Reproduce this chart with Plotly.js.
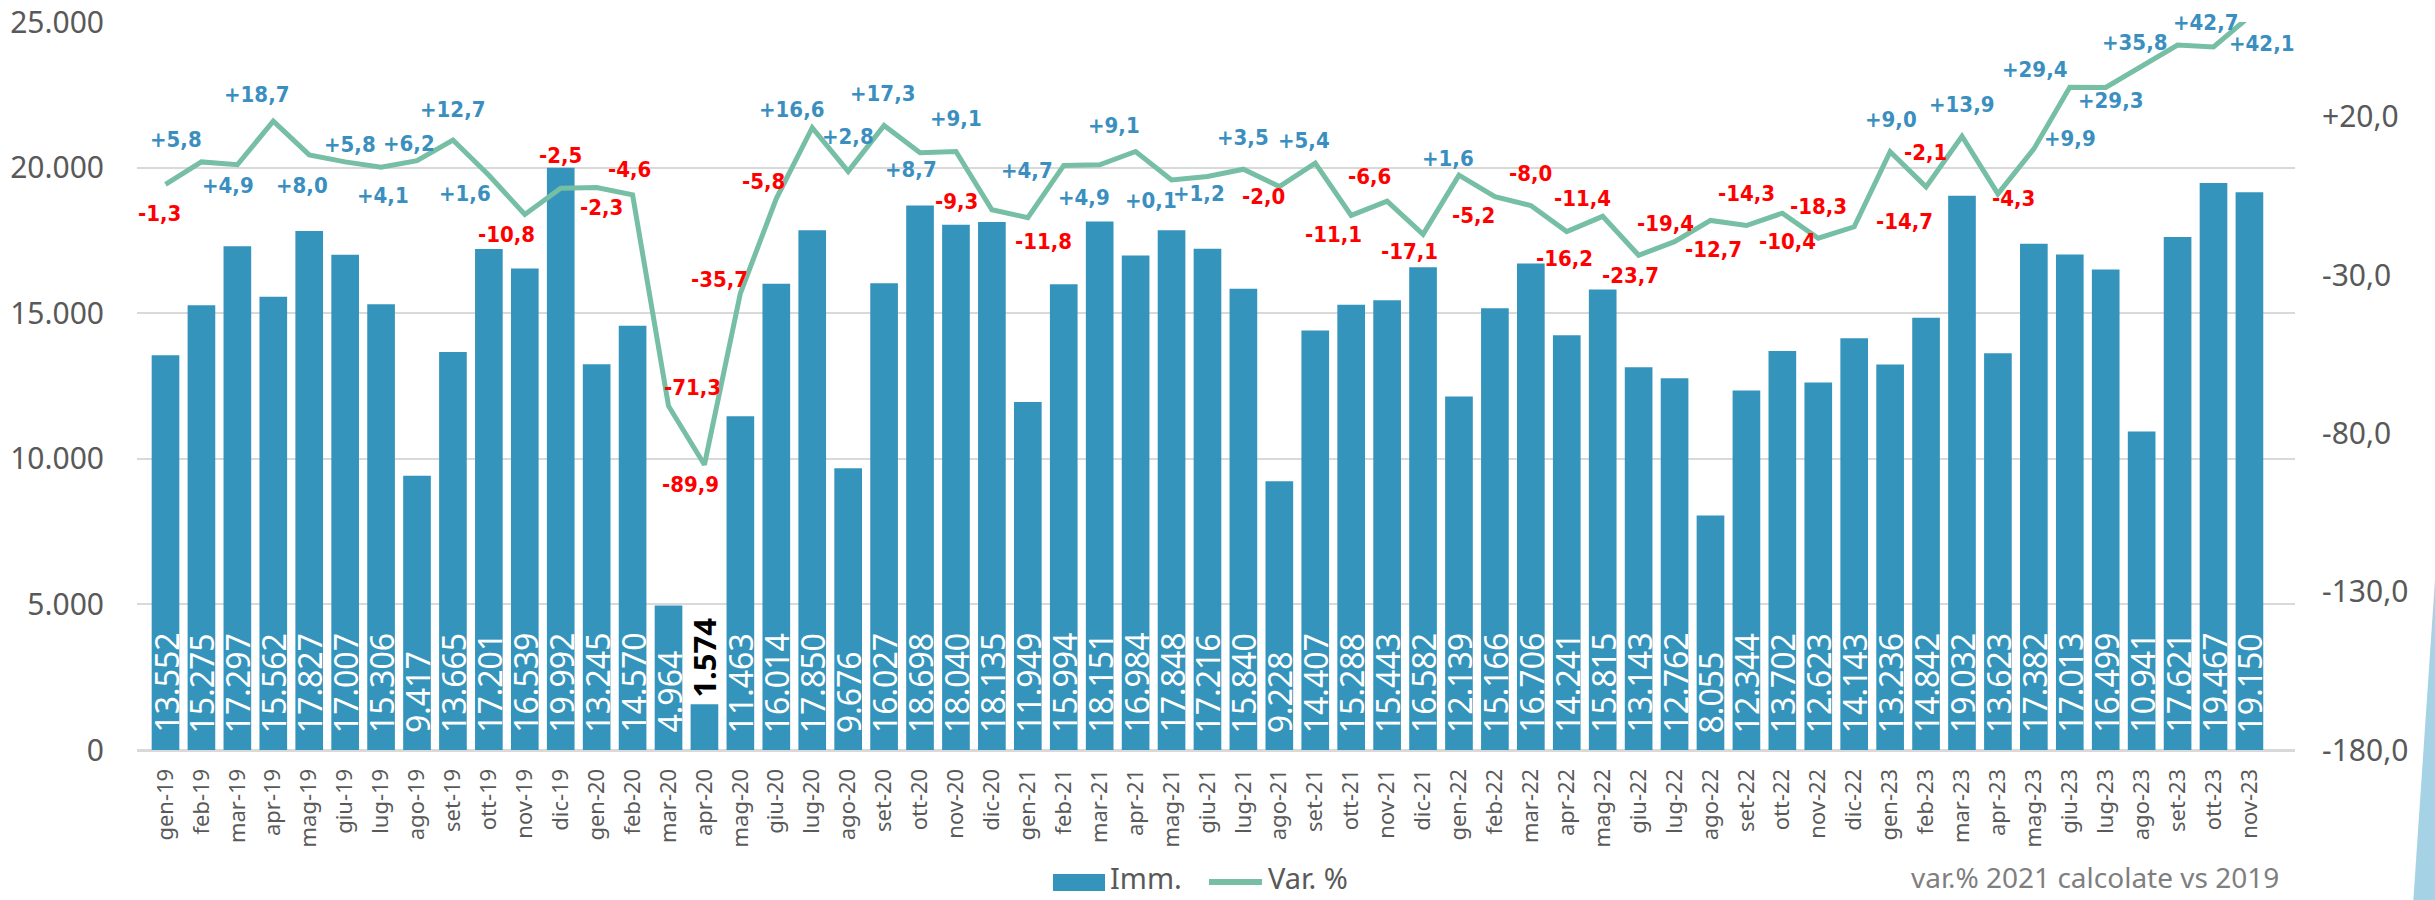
<!DOCTYPE html>
<html>
<head>
<meta charset="utf-8">
<script src="https://cdn.plot.ly/plotly-3.0.1.min.js"></script>
<style>
  html, body { margin: 0; padding: 0; background: #ffffff; }
  #chart { width: 2435px; height: 900px; }
</style>
</head>
<body>
<div id="chart"></div>
<script>
// ---- Data ----
const months = [
  'gen-19','feb-19','mar-19','apr-19','mag-19','giu-19','lug-19','ago-19','set-19','ott-19','nov-19','dic-19',
  'gen-20','feb-20','mar-20','apr-20','mag-20','giu-20','lug-20','ago-20','set-20','ott-20','nov-20','dic-20',
  'gen-21','feb-21','mar-21','apr-21','mag-21','giu-21','lug-21','ago-21','set-21','ott-21','nov-21','dic-21',
  'gen-22','feb-22','mar-22','apr-22','mag-22','giu-22','lug-22','ago-22','set-22','ott-22','nov-22','dic-22',
  'gen-23','feb-23','mar-23','apr-23','mag-23','giu-23','lug-23','ago-23','set-23','ott-23','nov-23'
];

const immatricolazioni = [
  13552, 15275, 17297, 15562, 17827, 17007, 15306, 9417, 13665, 17201, 16539, 19992,
  13245, 14570, 4964, 1574, 11463, 16014, 17850, 9676, 16027, 18698, 18040, 18135,
  11949, 15994, 18151, 16984, 17848, 17216, 15840, 9228, 14407, 15288, 15443, 16582,
  12139, 15166, 16706, 14241, 15815, 13143, 12762, 8055, 12344, 13702, 12623, 14143,
  13236, 14842, 19032, 13623, 17382, 17013, 16499, 10941, 17621, 19467, 19150
];

const variazionePct = [
  -1.3, 5.8, 4.9, 18.7, 8.0, 5.8, 4.1, 6.2, 12.7, 1.6, -10.8, -2.5,
  -2.3, -4.6, -71.3, -89.9, -35.7, -5.8, 16.6, 2.8, 17.3, 8.7, 9.1, -9.3,
  -11.8, 4.7, 4.9, 9.1, 0.1, 1.2, 3.5, -2.0, 5.4, -11.1, -6.6, -17.1,
  1.6, -5.2, -8.0, -16.2, -11.4, -23.7, -19.4, -12.7, -14.3, -10.4, -18.3, -14.7,
  9.0, -2.1, 13.9, -4.3, 9.9, 29.4, 29.3, 35.8, 42.7, 42.1, 51.7
];

const leftTickVals = [0, 5000, 10000, 15000, 20000, 25000];
const rightTickVals = [-180, -130, -80, -30, 20];
const rightTickText = ['-180,0', '-130,0', '-80,0', '-30,0', '+20,0'];

const seriesNames = ['Imm.', 'Var. %'];
const noteText = 'var.% 2021 calcolate vs 2019';

// ---- Styles: label offsets (px) relative to each line point: [dx, dy(down)] ----
const labelOffsets = [
  [-6,29],[-25,-22],[-9,21],[-17,-27],[-7,31],[5,-17],[2,28],[-8,-17],[0,-31],[-24,18],[-18,20],[0,-33],
  [5,20],[-3,-25],[24,-18],[-14,20],[-21,-14],[-13,-17],[-21,-18],[0,-35],[-2,-32],[-9,17],[0,-33],[-35,-8],
  [16,24],[-37,5],[-16,33],[-22,-26],[-21,21],[-8,17],[0,-32],[-16,10],[-11,-23],[-18,19],[-18,-25],[-14,17],
  [-11,-17],[-21,19],[0,-32],[-2,27],[-20,-18],[-8,20],[-9,-18],[3,29],[0,-32],[5,28],[0,-32],[50,-5],
  [1,-32],[-1,-34],[0,-32],[16,5],[36,-10],[-35,-18],[5,13],[-7,-24],[28,-23],[48,-4],[0,-30]
];

const Y2MIN = -180, Y2MAX = 50;
const BAR_COLOR = '#3594bb';
const LINE_COLOR = '#76bea4';
const POS_COLOR = '#3a8fc0';
const NEG_COLOR = '#ff0000';
const AXIS_TEXT = '#595959';

// plot geometry (px) for paper-coordinate helpers
const W = 2435, H = 900;
const M = { l: 137, r: 140, t: 22, b: 150 };
const PW = W - M.l - M.r, PH = H - M.t - M.b;
const px = x => (x - M.l) / PW;
const py = y => (H - M.b - y) / PH;

function thousands(v) {
  return String(v).replace(/\B(?=(\d{3})+(?!\d))/g, '.');
}
function pct(v) {
  const s = Math.abs(v).toFixed(1).replace('.', ',');
  return (v >= 0 ? '+' : '-') + s;
}

const barTrace = {
  type: 'bar',
  name: seriesNames[0],
  x: months,
  y: immatricolazioni,
  marker: { color: BAR_COLOR },
  hoverinfo: 'x+y',
  showlegend: false
};

const lineTrace = {
  type: 'scatter',
  mode: 'lines',
  name: seriesNames[1],
  x: months,
  y: variazionePct,
  yaxis: 'y2',
  line: { color: LINE_COLOR, width: 5 },
  showlegend: false
};

// bar value labels (rotated, at the base of each bar; above the bar when too short)
const barLabels = immatricolazioni.map((v, i) => {
  const outside = v < 4000;
  return {
    xref: 'x', yref: 'y',
    x: months[i], y: outside ? v : 0,
    text: thousands(v),
    textangle: -90,
    xanchor: 'center', yanchor: 'bottom',
    yshift: outside ? 6 : 16,
    showarrow: false,
    borderpad: 0,
    font: outside
      ? { family: 'Noto Sans', size: 31, color: '#000000', weight: 'bold' }
      : { family: 'Noto Sans', size: 32, color: '#ffffff' }
  };
});

// line value labels
const lineLabels = [];
variazionePct.forEach((v, i) => {
  if (v > Y2MAX || v < Y2MIN) return;
  lineLabels.push({
    xref: 'x', yref: 'y2',
    x: months[i], y: v,
    text: pct(v),
    xanchor: 'center', yanchor: 'middle',
    xshift: labelOffsets[i][0], yshift: -labelOffsets[i][1],
    showarrow: false,
    borderpad: 0,
    font: { family: 'DejaVu Sans Condensed', size: 22, color: v >= 0 ? POS_COLOR : NEG_COLOR, weight: 'bold' }
  });
});

// legend (drawn manually to match the large legend keys)
const legendAnn = [
  { xref: 'paper', yref: 'paper', x: px(1109), y: py(877), xanchor: 'left', yanchor: 'middle',
    text: seriesNames[0], showarrow: false, borderpad: 0,
    font: { family: 'Noto Sans', size: 29, color: AXIS_TEXT } },
  { xref: 'paper', yref: 'paper', x: px(1267), y: py(877), xanchor: 'left', yanchor: 'middle',
    text: seriesNames[1], showarrow: false, borderpad: 0,
    font: { family: 'Noto Sans', size: 29, color: AXIS_TEXT } }
];
const legendShapes = [
  { type: 'rect', xref: 'paper', yref: 'paper', x0: px(1053), x1: px(1105), y0: py(891), y1: py(874),
    fillcolor: BAR_COLOR, line: { width: 0 } },
  { type: 'line', xref: 'paper', yref: 'paper', x0: px(1209), x1: px(1262), y0: py(882), y1: py(882),
    line: { color: LINE_COLOR, width: 6 } }
];

const noteAnn = {
  xref: 'paper', yref: 'paper',
  x: px(2280), y: py(877),
  xanchor: 'right', yanchor: 'middle',
  text: noteText,
  showarrow: false,
  borderpad: 0,
  font: { family: 'Noto Sans', size: 28, color: '#7f7f7f' }
};

const decoShape = {
  type: 'path',
  xref: 'paper', yref: 'paper',
  path: `M ${px(2436)} ${py(565)} L ${px(2450)} ${py(565)} L ${px(2450)} ${py(905)} L ${px(2413)} ${py(905)} Z`,
  fillcolor: '#a6d2e6',
  line: { width: 0 }
};

const layout = {
  width: W,
  height: H,
  margin: M,
  paper_bgcolor: '#ffffff',
  plot_bgcolor: '#ffffff',
  separators: ',.',
  bargap: 0.23,
  showlegend: false,
  xaxis: {
    type: 'category',
    tickangle: -90,
    tickfont: { family: 'Noto Sans', size: 22, color: AXIS_TEXT },
    ticks: 'outside', ticklen: 9, tickcolor: 'rgba(0,0,0,0)',
    showgrid: false,
    showline: false,
    zeroline: false,
    automargin: false
  },
  yaxis: {
    range: [0, 25000],
    tickvals: leftTickVals,
    tickformat: ',d',
    tickfont: { family: 'Noto Sans', size: 30, color: AXIS_TEXT },
    ticks: 'outside', ticklen: 26, tickcolor: 'rgba(0,0,0,0)',
    gridcolor: '#d9d9d9', gridwidth: 2,
    zeroline: true, zerolinecolor: '#d9d9d9', zerolinewidth: 3,
    showline: false,
    automargin: false
  },
  yaxis2: {
    overlaying: 'y',
    side: 'right',
    range: [Y2MIN, Y2MAX],
    tickvals: rightTickVals,
    ticktext: rightTickText,
    tickfont: { family: 'Noto Sans', size: 30, color: AXIS_TEXT },
    ticks: 'outside', ticklen: 20, tickcolor: 'rgba(0,0,0,0)',
    showgrid: false,
    zeroline: false,
    showline: false,
    automargin: false
  },
  annotations: barLabels.concat(lineLabels, legendAnn, [noteAnn]),
  shapes: legendShapes.concat([decoShape])
};

Plotly.newPlot('chart', [barTrace, lineTrace], layout, { displayModeBar: false, staticPlot: true });
</script>
</body>
</html>
